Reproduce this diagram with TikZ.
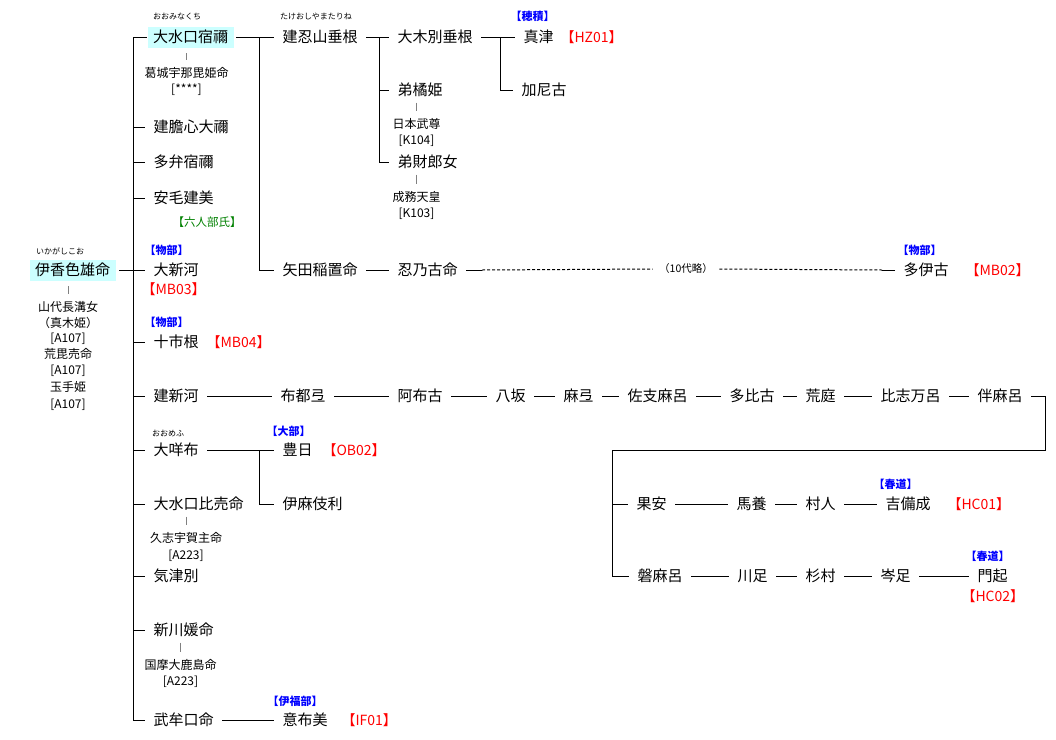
\documentclass[tikz,border=0pt]{standalone}
\usepackage{fontspec}
\setmainfont{Noto Sans CJK JP}
\usetikzlibrary{positioning,calc}
\definecolor{leadcyan}{HTML}{CCFFFF}
\definecolor{clanblue}{HTML}{0000FF}
\definecolor{codered}{HTML}{FF0000}
\definecolor{ujigreen}{HTML}{008000}

\begin{document}
\begin{tikzpicture}[
  x=1pt, y=-1pt, line width=1pt,
  person/.style={anchor=west, inner xsep=8pt, inner ysep=0pt,
    font=\fontsize{15pt}{18pt}\selectfont, text height=12.5pt, text depth=1.5pt},
  lead/.style={person, fill=leadcyan, inner xsep=5.5pt, minimum height=21pt},
  note/.style={inner sep=0pt, font=\fontsize{12pt}{14pt}\selectfont,
    text height=10pt, text depth=1.2pt},
  ruby/.style={inner sep=0pt, font=\fontsize{8pt}{9pt}\selectfont,
    text height=6.6pt, text depth=0.8pt},
  clan/.style={inner sep=0pt, text=clanblue, font=\bfseries\fontsize{11pt}{12pt}\selectfont,
    text height=9.1pt, text depth=1.1pt},
  code/.style={inner sep=0pt, text=codered, font=\fontsize{14pt}{16pt}\selectfont,
    text height=11.6pt, text depth=1.4pt},
  uji/.style={inner sep=0pt, text=ujigreen, font=\fontsize{11.5pt}{13pt}\selectfont,
    text height=9.5pt, text depth=1.2pt},
  gap/.style={inner xsep=6pt, inner ysep=0pt, font=\fontsize{10.5pt}{12pt}\selectfont},
  tie/.style={draw=gray, shorten <=5pt, shorten >=7pt},
  omitted/.style={dash pattern=on 3pt off 2pt},
]
  \useasboundingbox (0,0) rectangle (1056,739);
  \coordinate (trunk) at (133,0);

  \begin{scope}[every node/.style={person}]
    \node[lead] (ikaga) at (29,270) {伊香色雄命};
    % sons
    \node[lead] (oomina) at (147,37) {大水口宿禰};
    \node (takei)      at (145,127) {建膽心大禰};
    \node (tabe)       at (145,162) {多弁宿禰};
    \node (yasumo)     at (145,198) {安毛建美};
    \node (oonikawa)   at (145,270) {大新河};
    \node (tooichi)    at (145,342) {十市根};
    \node (takeni)     at (145,396) {建新河};
    \node (oomefu)     at (145,450) {大咩布};
    \node (oominohime) at (145,504) {大水口比売命};
    \node (ketsu)      at (145,576) {気津別};
    \node (niikawa)    at (145,630) {新川媛命};
    \node (mumuguchi)  at (145,720) {武牟口命};
    % grandsons
    \node (takeo)   at (274,37)  {建忍山垂根};
    \node (yata)    at (274,270) {矢田稲置命};
    \node (futsute) at (272,396) {布都弖};
    \node (toyohi)  at (274,450) {豊日};
    \node (imakiri) at (274,504) {伊麻伎利};
    \node (ofumi)   at (274,720) {意布美};
    \node (ooki)     at (389,37)  {大木別垂根};
    \node (ototachi) at (389,90)  {弟橘姫};
    \node (otosaki)  at (389,162) {弟財郎女};
    \node (oshino)   at (389,270) {忍乃古命};
    \node (abuko)    at (389,396) {阿布古};
    \node (matsu)  at (515,37)  {真津};
    \node (kaniko) at (513,90)  {加尼古};
    \node (taiko)  at (895,270) {多伊古};
    % line of takeni
    \node (yasaka)    at (487,396) {八坂};
    \node (mate)      at (555,396) {麻弖};
    \node (sakimaro)  at (619,396) {佐支麻呂};
    \node (tahiko)    at (721,396) {多比古};
    \node (nibawa)    at (797,396) {荒庭};
    \node (hishimaro) at (872,396) {比志万呂};
    \node (tomomaro)  at (969,396) {伴麻呂};
    \node (kaan)   at (628,504) {果安};
    \node (umakai) at (728,504) {馬養};
    \node (murato) at (797,504) {村人};
    \node (kibi)   at (877,504) {吉備成};
    \node (iwamaro)  at (629,576) {磐麻呂};
    \node (kawatari) at (729,576) {川足};
    \node (sugimura) at (797,576) {杉村};
    \node (minetari) at (872,576) {岑足};
    \node (monki)    at (969,576) {門起};
  \end{scope}

  % wives and their refs
  \path (68,307) node[note] (yamashiro) {山代長溝女}
    ++(0,16) node[note] (makihime) {（真木姫）}
    ++(0,15) node[note] (yamashiro-ref) {[A107]}
    ++(0,16) node[note] (arahime) {荒毘売命}
    ++(0,16) node[note] (arahime-ref) {[A107]}
    ++(0,17) node[note] (tamate) {玉手姫}
    ++(0,17) node[note] (tamate-ref) {[A107]};
  \path (186.5,73) node[note] (kazura) {葛城宇那毘姫命}
    ++(0,16) node[note] (kazura-ref) {[****]};
  \path (416.5,124) node[note] (yamato) {日本武尊}
    ++(0,16) node[note] (yamato-ref) {[K104]};
  \path (416.5,197) node[note] (seimu) {成務天皇}
    ++(0,16) node[note] (seimu-ref) {[K103]};
  \path (186,538) node[note] (kushi) {久志宇賀主命}
    ++(0,17) node[note] (kushi-ref) {[A223]};
  \path (180.5,665) node[note] (kuniha) {国摩大鹿島命}
    ++(0,16) node[note] (kuniha-ref) {[A223]};
  \draw[tie] (ikaga.south -| yamashiro.north) -- (yamashiro.north);
  \draw[tie] (oomina.south -| kazura.north) -- (kazura.north);
  \draw[tie] (ototachi.south -| yamato.north) -- (yamato.north);
  \draw[tie] (otosaki.south -| seimu.north) -- (seimu.north);
  \draw[tie] (oominohime.south -| kushi.north) -- (kushi.north);
  \draw[tie] (niikawa.south -| kuniha.north) -- (kuniha.north);

  % readings
  \node[ruby, above right=3pt and 6.5pt of ikaga.north west] (ikaga-ruby) {いかがしこお};
  \node[ruby, above right=5pt and 5.5pt of oomina.north west] (oomina-ruby) {おおみなくち};
  \node[ruby, above right=9pt and 5.5pt of takeo.north west] (takeo-ruby) {たけおしやまたりね};
  \node[ruby, above right=4.5pt and 6.5pt of oomefu.north west] (oomefu-ruby) {おおめふ};

  % clans
  \node[clan, above right=7.5pt and -5pt of matsu.north west] (matsu-clan) {【穂積】};
  \node[clan, above right=6.5pt and -1pt of oonikawa.north west] (oonikawa-clan) {【物部】};
  \node[clan, above right=6.5pt and -1pt of tooichi.north west] (tooichi-clan) {【物部】};
  \node[clan, above right=5.5pt and -8pt of toyohi.north west] (toyohi-clan) {【大部】};
  \node[clan, above right=5.5pt and -7pt of ofumi.north west] (ofumi-clan) {【伊福部】};
  \node[clan, above right=6.5pt and 2pt of taiko.north west] (taiko-clan) {【物部】};
  \node[clan, above right=6.5pt and -4pt of kibi.north west] (kibi-clan) {【春道】};
  \node[clan, above right=6.5pt and -4pt of monki.north west] (monki-clan) {【春道】};
  \node[uji, below right=10.5pt and 27pt of yasumo.south west] (yasumo-uji) {【六人部氏】};
  \node[code, right=-2pt of matsu] (matsu-code) {【HZ01】};
  \node[code, right=8pt of taiko] (taiko-code) {【MB02】};
  \node[code, below right=4.5pt and -4pt of oonikawa.south west] (oonikawa-code) {【MB03】};
  \node[code, right=-1pt of tooichi] (tooichi-code) {【MB04】};
  \node[code, right=1pt of toyohi] (toyohi-code) {【OB02】};
  \node[code, right=5pt of ofumi] (ofumi-code) {【IF01】};
  \node[code, right=8pt of kibi] (kibi-code) {【HC01】};
  \node[code, below right=5.5pt and -8pt of monki.south west] (monki-code) {【HC02】};

  % connectors
  \draw (trunk |- oomina.west) -- (trunk |- mumuguchi.west);
  \foreach \n in {oomina,takei,tabe,yasumo,tooichi,takeni,oomefu,
                  oominohime,ketsu,niikawa,mumuguchi}
    \draw (trunk |- \n.west) -- (\n.west);
  \draw[shorten <=3pt] (ikaga.east) -- (oonikawa.west);
  \draw[shorten <=2pt] (oomina.east) -- (takeo.west);
  \draw ($(oomina.east)+(25,0)$) |- (yata.west);
  \draw (takeo.east) -- (ooki.west);
  \draw ($(takeo.east)+(13,0)$) |- (ototachi.west);
  \draw ($(takeo.east)+(13,0)$) |- (otosaki.west);
  \draw (ooki.east) -- (matsu.west);
  \draw ($(ooki.east)+(19,0)$) |- (kaniko.west);
  \draw (yata.east) -- (oshino.west);
  \node[gap] (ryaku) at (686,269) {（10代略）};
  \draw (oshino.east) -- ++(16,0) coordinate (omit-l);
  \draw[omitted] (omit-l) -- (ryaku.west);
  \draw (taiko.west) -- ++(-13,0) coordinate (omit-r);
  \draw[omitted] (ryaku.east) -- (omit-r);
  \foreach \a/\b in {takeni/futsute,futsute/abuko,abuko/yasaka,yasaka/mate,
                     mate/sakimaro,sakimaro/tahiko,tahiko/nibawa,
                     nibawa/hishimaro,hishimaro/tomomaro}
    \draw (\a.east) -- (\b.west);
  \coordinate (drop) at (612,450);
  \draw (tomomaro.east) -- ++(14,0) |- (drop) |- (iwamaro.west);
  \draw (drop |- kaan.west) -- (kaan.west);
  \foreach \a/\b in {kaan/umakai,umakai/murato,murato/kibi,
                     iwamaro/kawatari,kawatari/sugimura,
                     sugimura/minetari,minetari/monki}
    \draw (\a.east) -- (\b.west);
  \draw (oomefu.east) -- (toyohi.west);
  \draw ($(toyohi.west)+(-15,0)$) |- (imakiri.west);
  \draw (mumuguchi.east) -- (ofumi.west);
\end{tikzpicture}
\end{document}
